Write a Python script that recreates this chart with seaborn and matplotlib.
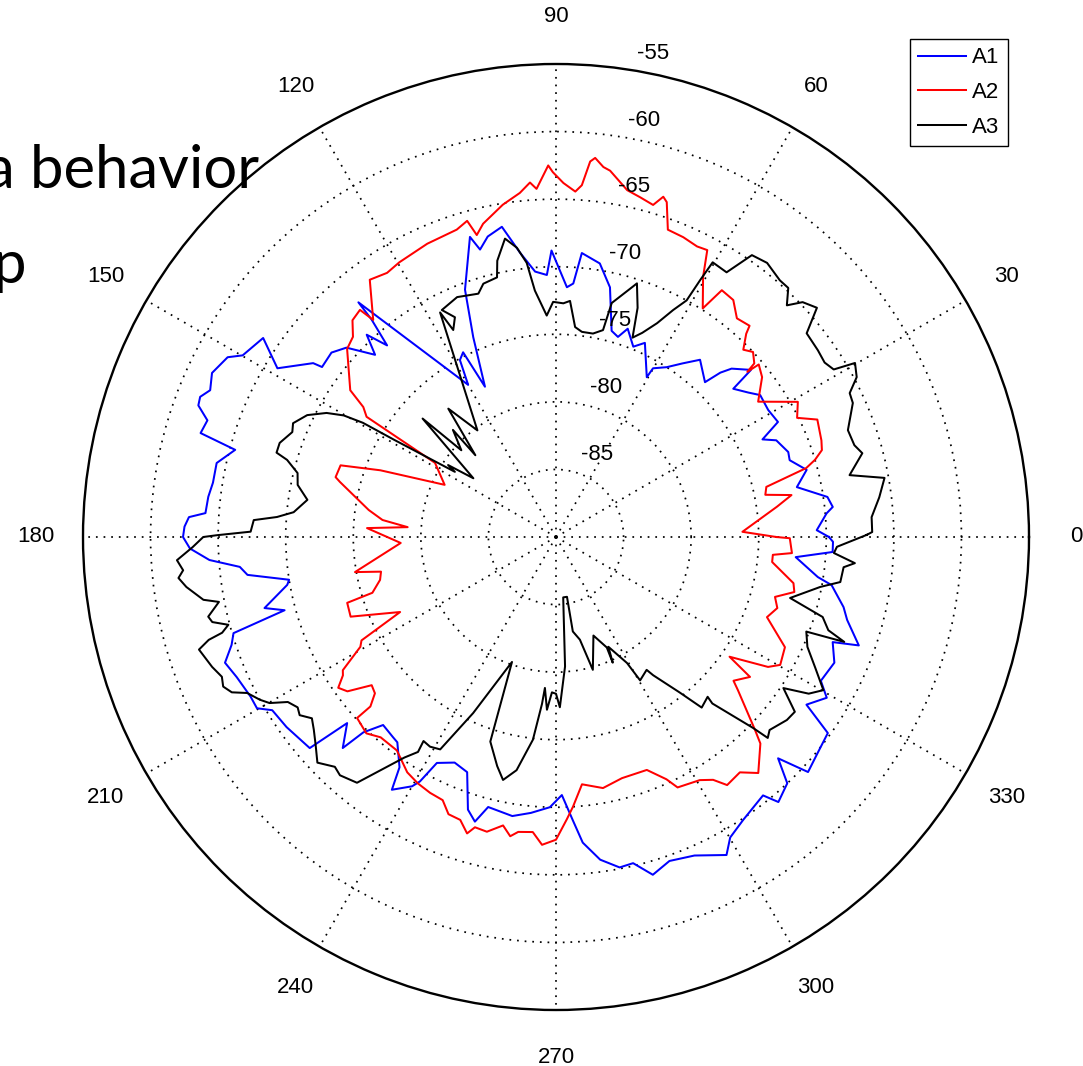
import numpy as np
import pandas as pd
import matplotlib
matplotlib.use("Agg")
import matplotlib.pyplot as plt
import seaborn as sns

# ---------------- data (angle in degrees, RSSI in dBm) ----------------
a1_angle = [0.0, 1.5, 5.0, 6.2, 8.4, 11.7, 15.0, 18.2, 20.1, 23.7, 25.3, 27.4, 30.9, 34.8,
            36.9, 39.9, 40.6, 43.8, 45.0, 46.1, 50.9, 53.9, 56.9, 60.1, 60.4, 65.4, 67.9,
            71.0, 72.8, 74.9, 77.8, 80.9, 84.8, 86.1, 87.5, 90.9, 92.0, 94.5, 97.2, 99.9,
            102.8, 104.8, 106.0, 110.2, 112.5, 115.3, 116.7, 118.5, 120.0, 130.1, 130.3,
            131.4, 133.1, 134.8, 137.9, 140.6, 144.0, 144.4, 148.8, 145.8, 149.9, 151.3,
            154.5, 157.0, 158.5, 159.8, 161.5, 163.7, 164.8, 167.7, 171.0, 173.4, 176.1,
            176.9, 178.4, 180.0, 181.8, 183.8, 185.4, 187.0, 189.1, 190.1, 193.7, 195.1,
            196.6, 198.4, 200.8, 203.7, 207.6, 209.8, 211.4, 215.2, 220.6, 221.7, 224.7,
            225.4, 227.4, 230.8, 232.3, 235.8, 237.0, 240.0, 240.9, 242.2, 245.8, 249.3,
            252.1, 254.1, 255.9, 261.1, 264.8, 268.7, 271.3, 273.4, 275.0, 277.8, 280.9,
            283.3, 286.0, 289.3, 293.5, 298.2, 300.1, 303.5, 308.7, 310.0, 313.2, 315.1,
            317.0, 320.5, 324.2, 326.2, 329.3, 331.5, 335.7, 339.2, 340.3, 344.1, 346.3,
            350.1, 351.3, 355.2, 356.9, 359.0, 360.0]
a1_rssi = [-69.8, -70.7, -69.9, -69.4, -69.7, -71.8, -70.8, -71.8, -71.7, -72.2, -73.1, -71.5,
           -71.7, -71.6, -72.2, -72.9, -71.0, -72.0, -72.8, -74.1, -73.1, -74.1, -75.0, -75.6,
           -76.4, -74.2, -74.8, -73.7, -74.5, -74.2, -71.1, -69.5, -68.9, -71.2, -71.5, -68.8,
           -70.6, -70.3, -68.8, -66.7, -67.2, -68.0, -66.9, -70.5, -74.0, -77.7, -74.7, -75.1,
           -77.0, -67.3, -68.9, -71.1, -69.5, -71.0, -69.1, -68.5, -68.6, -67.9, -65.9, -63.8,
           -63.2, -62.3, -61.8, -62.2, -61.7, -61.8, -62.8, -62.6, -65.4, -64.3, -64.3, -64.1,
           -64.0, -62.8, -62.5, -62.4, -62.9, -64.3, -66.5, -67.0, -70.0, -69.8, -67.8, -69.2,
           -65.1, -64.7, -63.8, -64.2, -64.5, -64.5, -65.4, -65.6, -66.0, -69.3, -67.8, -69.7,
           -71.1, -70.9, -70.8, -69.4, -67.7, -68.7, -69.3, -71.1, -71.7, -71.4, -68.8, -68.1,
           -69.4, -69.1, -69.5, -70.0, -70.9, -69.0, -67.3, -65.9, -65.1, -65.2, -64.0, -64.6,
           -64.3, -63.3, -64.3, -64.9, -65.5, -64.4, -65.0, -66.8, -64.5, -64.9, -65.2, -67.7,
           -66.7, -67.7, -67.4, -68.1, -66.2, -67.6, -68.1, -69.3, -70.4, -72.2, -69.5, -69.5,
           -69.8]

a2_angle = [0.0, 1.6, 7.8, 10.1, 11.4, 13.4, 15.4, 16.6, 18.1, 20.0, 24.2, 26.3, 29.2, 33.8,
            37.8, 40.4, 40.8, 41.2, 43.2, 45.0, 46.9, 47.5, 50.4, 53.2, 56.1, 57.3, 60.5,
            62.2, 64.1, 67.0, 70.0, 71.7, 72.5, 73.7, 76.1, 78.4, 79.8, 81.6, 82.7, 84.1,
            84.8, 85.8, 86.8, 88.8, 90.5, 91.2, 93.2, 94.2, 96.0, 99.1, 103.1, 104.7, 105.7,
            107.9, 113.7, 119.7, 122.6, 125.9, 130.1, 130.8, 133.2, 135.4, 138.0, 144.5,
            146.0, 147.6, 148.5, 154.9, 159.2, 161.6, 164.8, 165.7, 171.8, 174.4, 176.2,
            177.3, 182.2, 189.9, 191.2, 193.7, 196.9, 197.5, 201.2, 205.7, 208.0, 209.3,
            212.0, 213.0, 214.7, 216.5, 218.8, 220.8, 222.4, 222.3, 226.0, 228.8, 233.3,
            237.7, 240.7, 243.8, 246.7, 248.8, 251.3, 253.3, 254.4, 256.8, 259.6, 261.3,
            262.7, 265.5, 267.4, 270.0, 272.2, 273.6, 276.0, 280.6, 285.3, 291.3, 294.5,
            295.9, 300.6, 302.9, 304.6, 308.0, 310.6, 314.7, 315.9, 319.9, 321.0, 324.2,
            325.4, 328.5, 330.3, 334.3, 339.2, 342.2, 344.7, 347.0, 349.0, 353.4, 355.3,
            356.1, 359.7, 360.0]
a2_rssi = [-73.7, -76.2, -73.5, -72.3, -74.2, -74.0, -70.8, -70.0, -69.3, -69.1, -68.8, -70.1,
           -69.5, -72.0, -70.7, -70.3, -71.3, -70.5, -70.0, -70.4, -69.4, -68.8, -69.0, -68.1,
           -68.0, -69.9, -67.9, -66.0, -66.1, -65.9, -65.8, -63.9, -63.6, -64.4, -64.1, -63.8,
           -63.3, -62.6, -62.4, -61.8, -62.1, -63.9, -64.4, -63.8, -63.0, -62.5, -64.2, -63.7,
           -64.4, -65.1, -66.2, -66.9, -65.7, -66.1, -66.3, -66.6, -66.8, -66.5, -69.0, -67.8,
           -68.0, -68.9, -69.2, -71.3, -72.8, -73.4, -79.5, -80.9, -76.1, -73.2, -73.1, -73.5,
           -76.0, -77.1, -79.0, -76.0, -78.5, -74.9, -76.8, -76.6, -75.8, -73.8, -73.7, -77.2,
           -73.7, -73.4, -71.4, -71.2, -70.4, -70.8, -72.5, -72.3, -71.4, -70.1, -69.8, -70.3,
           -70.3, -69.4, -69.1, -68.9, -68.8, -68.0, -67.9, -67.1, -67.7, -67.6, -68.3, -67.6,
           -68.0, -68.1, -67.2, -67.6, -69.1, -70.0, -71.6, -71.1, -71.5, -71.5, -70.3, -69.4,
           -69.1, -68.6, -67.7, -67.9, -67.0, -68.5, -69.5, -72.4, -73.1, -72.3, -74.4, -71.6,
           -70.9, -71.2, -73.3, -72.8, -73.2, -71.9, -72.1, -73.9, -73.9, -72.5, -72.7, -73.7]

a3_angle = [0.4, 0.9, 3.6, 7.0, 10.2, 11.9, 15.3, 17.1, 20.1, 24.3, 26.1, 28.0, 30.2, 31.1,
            33.0, 35.5, 39.1, 41.3, 43.6, 45.1, 47.0, 48.9, 52.4, 55.2, 57.2, 60.3, 60.7,
            61.1, 62.7, 64.7, 67.1, 69.0, 70.4, 72.3, 72.9, 76.6, 77.2, 79.7, 82.8, 84.8,
            86.6, 88.2, 90.7, 92.4, 94.9, 96.1, 97.7, 99.7, 102.0, 102.8, 106.0, 107.7, 112.4,
            116.7, 114.7, 116.4, 117.3, 126.4, 130.0, 134.6, 133.9, 137.5, 138.4, 144.6,
            146.3, 147.2, 149.0, 149.4, 150.2, 151.6, 153.9, 156.6, 158.3, 161.2, 163.2,
            164.0, 166.1, 168.6, 171.5, 174.6, 175.9, 176.8, 179.0, 179.7, 180.0, 181.6,
            183.5, 185.1, 186.2, 187.7, 190.1, 190.9, 192.9, 193.9, 195.0, 196.0, 196.5,
            197.5, 200.7, 202.7, 204.2, 205.6, 206.8, 208.8, 210.1, 211.6, 213.4, 214.8,
            216.6, 218.5, 220.8, 223.4, 226.1, 227.8, 231.0, 235.5, 237.3, 237.0, 239.0,
            241.4, 244.8, 250.6, 252.2, 255.6, 257.7, 260.4, 263.5, 265.2, 265.8, 267.0,
            268.5, 270.0, 271.3, 274.0, 276.8, 280.4, 280.1, 283.1, 285.5, 290.8, 294.7,
            294.3, 295.5, 299.4, 300.4, 304.3, 305.1, 308.5, 310.5, 313.5, 313.2, 315.9,
            316.5, 317.9, 321.6, 323.8, 326.4, 328.2, 330.2, 333.2, 336.4, 339.3, 340.0,
            341.1, 343.3, 345.4, 349.3, 351.0, 354.0, 355.0, 356.7, 358.0, 360.4]
a3_rssi = [-67.0, -66.6, -66.6, -65.9, -65.3, -67.8, -66.5, -66.9, -67.0, -65.9, -65.8, -64.8,
           -64.4, -66.0, -66.3, -66.2, -66.1, -64.3, -64.8, -65.8, -64.8, -64.8, -64.4, -64.6,
           -66.7, -66.6, -68.2, -70.0, -71.1, -72.5, -73.6, -74.2, -72.0, -70.3, -70.6, -72.2,
           -74.3, -74.7, -74.7, -74.4, -72.5, -72.7, -72.6, -73.6, -71.7, -69.6, -68.4, -67.6,
           -69.1, -70.3, -70.5, -71.1, -70.8, -71.2, -72.1, -72.9, -71.3, -80.2, -77.6, -81.5,
           -79.0, -80.5, -76.8, -82.5, -80.4, -81.1, -76.1, -73.4, -71.9, -70.7, -69.5, -68.8,
           -69.0, -68.4, -68.4, -69.3, -70.3, -70.5, -71.4, -70.5, -69.3, -67.6, -67.4, -64.9,
           -63.9, -63.1, -61.9, -62.3, -61.9, -62.4, -63.5, -64.6, -63.6, -63.8, -64.9, -64.3,
           -63.2, -62.3, -62.8, -63.2, -63.0, -63.4, -64.4, -65.0, -65.5, -66.7, -67.1, -66.9,
           -67.5, -67.1, -66.5, -65.7, -66.4, -66.2, -66.6, -70.2, -71.1, -72.0, -71.9, -72.1,
           -75.6, -80.2, -74.1, -72.5, -71.6, -72.5, -74.9, -77.6, -78.8, -77.2, -78.5, -78.4,
           -77.4, -80.4, -85.5, -85.5, -82.9, -82.2, -79.8, -82.2, -81.0, -79.8, -81.0, -79.3,
           -77.7, -78.1, -77.5, -75.3, -73.4, -73.7, -73.1, -69.7, -68.4, -68.7, -68.2, -68.1,
           -69.8, -68.0, -67.2, -68.5, -69.7, -70.2, -67.3, -68.7, -69.4, -72.1, -70.1, -68.7,
           -68.6, -67.8, -69.4, -69.2, -67.0]

series_names = ["A1", "A2", "A3"]
series_colors = ["#0000ff", "#ff0000", "#000000"]
radial_ticks = [-85, -80, -75, -70, -65, -60, -55]
angle_ticks = [0, 30, 60, 90, 120, 150, 180, 210, 240, 270, 300, 330]
r_min, r_max = -90, -55

# ---------------- build long table ----------------
frames = []
for name, ang, val in zip(series_names, [a1_angle, a2_angle, a3_angle],
                          [a1_rssi, a2_rssi, a3_rssi]):
    frames.append(pd.DataFrame({"theta": np.deg2rad(ang), "rssi": val, "series": name}))
df = pd.concat(frames, ignore_index=True)

plt.rcParams["font.family"] = ["Liberation Sans", "DejaVu Sans"]

fig = plt.figure(figsize=(10.83, 10.66), dpi=100, facecolor="white")
ax = fig.add_axes([83 / 1083, 56 / 1066, 946 / 1083, 946 / 1066], projection="polar")
ax.set_facecolor("white")

sns.lineplot(data=df, x="theta", y="rssi", hue="series",
             palette=dict(zip(series_names, series_colors)),
             sort=False, estimator=None, legend=False, linewidth=1.45, ax=ax, zorder=3)

ax.set_xlabel("")
ax.set_ylabel("")
ax.set_thetamin(0)
ax.set_thetamax(360)
ax.set_ylim(r_min, r_max)

# grid: dotted rings and spokes
ax.set_yticks(radial_ticks[:-1])
ax.set_yticklabels([""] * (len(radial_ticks) - 1))
ax.set_xticks(np.deg2rad(angle_ticks))
ax.set_xticklabels([""] * len(angle_ticks))
ax.tick_params(length=0)
ax.grid(True, color="black", linestyle=(0, (1, 3.4)), linewidth=1.25)
ax.set_axisbelow(True)
ax.spines["polar"].set_color("black")
ax.spines["polar"].set_linewidth(1.7)

# angle labels at 1.1 * outer radius
r_lab = r_min + 1.1 * (r_max - r_min)
for a in angle_ticks:
    ax.text(np.deg2rad(a), r_lab, str(a), ha="center", va="center",
            fontsize=16, clip_on=False)

# radial labels near 82 degrees
for v in radial_ticks:
    ax.annotate(str(v), xy=(np.deg2rad(82), v), xytext=(11.0, 7.2),
                textcoords="offset points", ha="left", va="baseline",
                fontsize=16, annotation_clip=False, zorder=5)

# legend
leg = fig.legend(handles=ax.lines[:3], labels=series_names, loc="upper left",
                 bbox_to_anchor=(910 / 1083, 1 - 39 / 1066), fontsize=16,
                 frameon=True, fancybox=False, edgecolor="black", framealpha=1,
                 borderpad=0.38, labelspacing=0.62, handlelength=2.15,
                 handletextpad=0.28, borderaxespad=0)
leg.get_frame().set_linewidth(1.0)

# slide text behind the chart
fig.text(259 / 1083, 1 - 188 / 1066, "a behavior", ha="right", va="baseline",
         fontsize=43, family=["Lato", "DejaVu Sans"])
fig.text(-7 / 1083, 1 - 283 / 1066, "p", ha="left", va="baseline",
         fontsize=43, family=["Lato", "DejaVu Sans"])

fig.savefig("out.png", dpi=100, facecolor="white")
